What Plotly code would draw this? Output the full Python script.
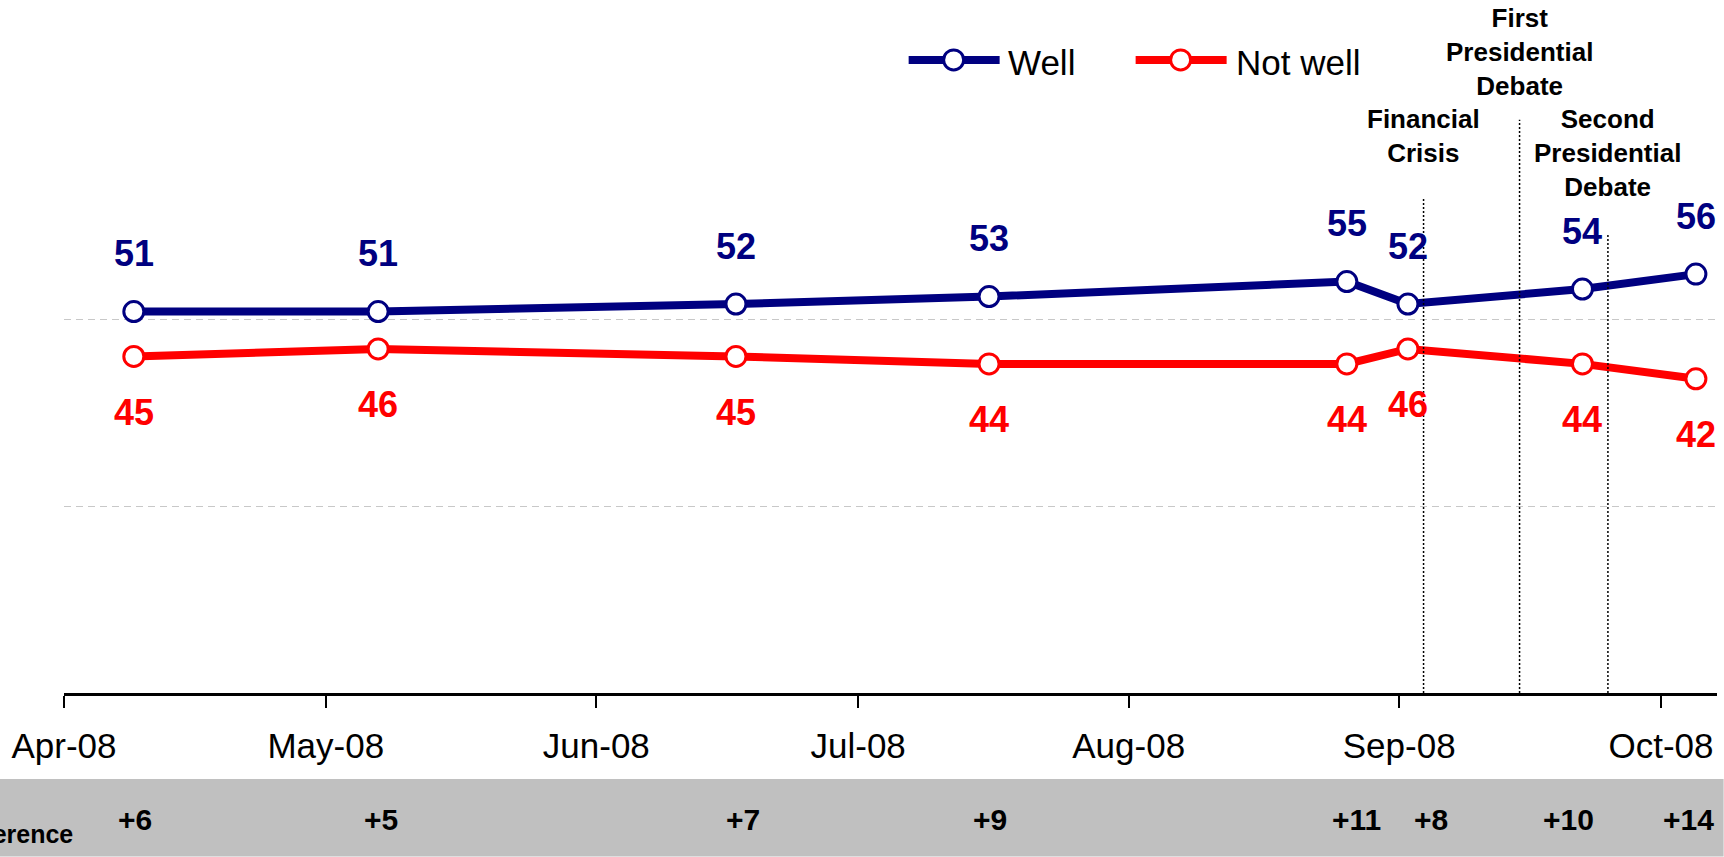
import plotly.graph_objects as go

# ---------------- data ----------------
dates = ["2008-04-09", "2008-05-07", "2008-06-17", "2008-07-16",
         "2008-08-26", "2008-09-02", "2008-09-22", "2008-10-05"]
well = [51, 51, 52, 53, 55, 52, 54, 56]
not_well = [45, 46, 45, 44, 44, 46, 44, 42]
difference = ["+6", "+5", "+7", "+9", "+11", "+8", "+10", "+14"]

event_dates = ["2008-09-03 19:00", "2008-09-14 19:00", "2008-09-24 22:00"]
event_labels = ["Financial<br>Crisis", "First<br>Presidential<br>Debate",
                "Second<br>Presidential<br>Debate"]

series_names = ["Well", "Not well"]

# ---------------- layout geometry (page pixels) ----------------
W, H = 1724, 857
PL, PR = 64.3, 1717.4      # plot left/right
PT, PB = 131.7, 693.3      # plot top/bottom
PW, PH = PR - PL, PB - PT


def px2x(px):
    return (px - PL) / PW


def py2y(py):
    return (PB - py) / PH


NAVY = "#000080"
RED = "#FF0000"
FONT = "Liberation Sans, Arial, sans-serif"

fig = go.Figure()

for name, vals, col in [(series_names[0], well, NAVY), (series_names[1], not_well, RED)]:
    fig.add_trace(go.Scatter(
        x=dates, y=vals, name=name, mode="lines+markers",
        line=dict(color=col, width=8),
        marker=dict(size=20, color="white", line=dict(color=col, width=3)),
        showlegend=False, hoverinfo="skip",
    ))

annotations = []
# data labels
for d, v in zip(dates, well):
    annotations.append(dict(x=d, y=v, xref="x", yref="y", text=str(v), showarrow=False,
                            yshift=58, font=dict(family=FONT, size=36, color=NAVY, weight="bold")))
for d, v in zip(dates, not_well):
    annotations.append(dict(x=d, y=v, xref="x", yref="y", text=str(v), showarrow=False,
                            yshift=-56, font=dict(family=FONT, size=36, color=RED, weight="bold")))

# difference row
diff_shift = [1, 3, 7, 1, 10, 23, -14, -7]
for d, t, s in zip(dates, difference, diff_shift):
    annotations.append(dict(x=d, y=py2y(820), xref="x", yref="paper", text=t, showarrow=False,
                            xshift=s, yanchor="middle",
                            font=dict(family=FONT, size=30, color="black", weight="bold")))
annotations.append(dict(x=px2x(75), y=py2y(834), xref="paper", yref="paper", text="Difference",
                        showarrow=False, xanchor="right", yanchor="middle",
                        font=dict(family=FONT, size=25, color="black", weight="bold")))

# event labels and lines
event_label_y = [136, 52, 152.5]
event_line_top = [196.7, 119.5, 233.3]
shapes = []
for d, lab, ly, lt in zip(event_dates, event_labels, event_label_y, event_line_top):
    annotations.append(dict(x=d, y=py2y(ly), xref="x", yref="paper", text=lab, showarrow=False,
                            xanchor="center", yanchor="middle",
                            font=dict(family=FONT, size=26, color="black", weight="bold")))
    shapes.append(dict(type="line", xref="x", yref="paper", x0=d, x1=d, y0=0, y1=py2y(lt),
                       line=dict(color="black", width=1.5, dash="2px,2px")))

# gray band
shapes.append(dict(type="rect", xref="paper", yref="paper", x0=px2x(0), x1=px2x(W),
                   y0=py2y(H), y1=py2y(779.3), fillcolor="#C0C0C0", line=dict(width=0),
                   layer="below"))

# custom legend
legend_items = [(series_names[0], NAVY, 909, 1000, 954, 1006.7),
                (series_names[1], RED, 1136, 1227, 1181, 1234)]
for name, col, lx0, lx1, mx, tx in legend_items:
    shapes.append(dict(type="line", xref="paper", yref="paper", x0=px2x(lx0), x1=px2x(lx1),
                       y0=py2y(59.5), y1=py2y(59.5), line=dict(color=col, width=8)))
    shapes.append(dict(type="circle", xref="paper", yref="paper",
                       xsizemode="pixel", ysizemode="pixel",
                       xanchor=px2x(mx), yanchor=py2y(59.5), x0=-10, x1=10, y0=-10, y1=10,
                       fillcolor="white", line=dict(color=col, width=3)))
    annotations.append(dict(x=px2x(tx), y=py2y(62), xref="paper", yref="paper", text=name,
                            showarrow=False, xanchor="left", yanchor="middle",
                            font=dict(family=FONT, size=35, color="black")))

fig.update_layout(
    width=W, height=H,
    margin=dict(l=PL, r=W - PR, t=PT, b=H - PB, pad=0),
    paper_bgcolor="white", plot_bgcolor="white",
    annotations=annotations, shapes=shapes,
    showlegend=False,
    xaxis=dict(
        type="date", range=["2008-04-01", "2008-10-07 10:00"],
        tick0="2008-04-01", dtick="M1", tickformat="%b-%y",
        showgrid=False, zeroline=False,
        showline=True, linecolor="black", linewidth=3,
        ticks="outside", ticklen=12, tickwidth=1.5, tickcolor="black",
        tickfont=dict(family=FONT, size=35, color="black"),
        ticklabelstandoff=8,
    ),
    yaxis=dict(
        range=[0, 75], tickvals=[25, 50, 75], showticklabels=False,
        showgrid=True, gridcolor="#C8C8C8", gridwidth=1.2, griddash="7px,5px",
        zeroline=False, showline=False, ticks="",
    ),
)

fig.write_html("out.html", config={"displayModeBar": False},
               post_script="document.body.style.margin='0';document.body.style.overflow='hidden';")
